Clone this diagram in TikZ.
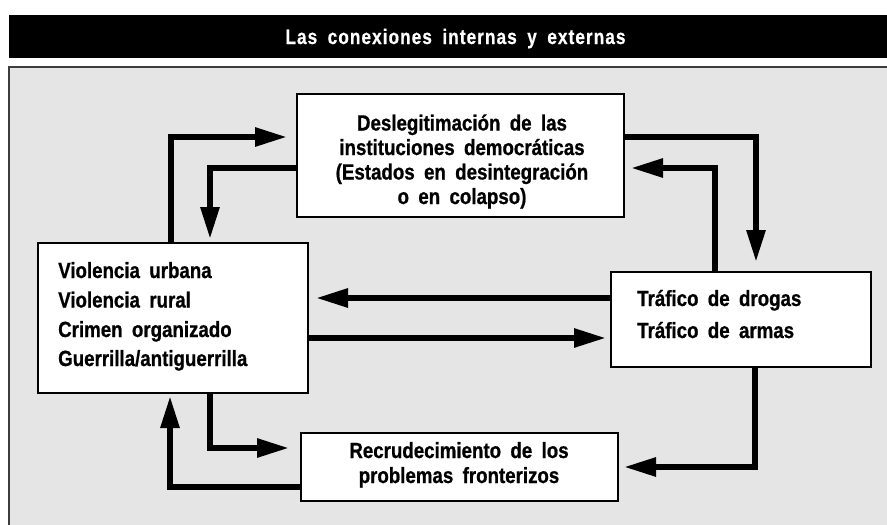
\documentclass[tikz,border=0pt]{standalone}
\usepackage{fontspec}
\setmainfont{Liberation Sans}[FakeStretch=0.85,WordSpace=1.8,BoldFeatures={FakeBold=0.8}]
\newfontfamily\titlefont{Liberation Sans}[FakeStretch=0.82,WordSpace=1.8,LetterSpace=5,BoldFeatures={FakeBold=0.6}]
\usetikzlibrary{arrows.meta}
\definecolor{panelgray}{HTML}{E5E5E5}
\definecolor{edgegray}{HTML}{3C3C3C}
\tikzset{
  box/.style={draw=black, line width=2pt, fill=white, inner sep=0pt},
  txt/.style={inner sep=0pt, font=\fontsize{22}{22}\selectfont\bfseries},
  arr/.style={line width=5.8pt, line join=miter, -{Triangle[length=32pt,width=18pt]}},
}
\begin{document}
\begin{tikzpicture}[x=1pt,y=-1pt]
\useasboundingbox (0,0) rectangle (887,525);
% title bar
\fill[black] (9,15) rectangle (887,58);
\node[inner sep=0pt, anchor=base, text=white, font=\titlefont\fontsize{21}{21}\selectfont\bfseries] (title) at (455.5,44) {Las conexiones internas y externas};
% panel
\fill[panelgray] (9,67) rectangle (887,525);
\draw[edgegray, line width=2pt] (9,525) -- (9,67) -- (887,67);
% boxes
\node[box, minimum width=327pt, minimum height=123pt] (dt) at (460.5,155.5) {};
\node[box, minimum width=270pt, minimum height=150pt] (vl) at (173,318) {};
\node[box, minimum width=260pt, minimum height=95pt] (tr) at (741,319.5) {};
\node[box, minimum width=317pt, minimum height=68pt] (rb) at (459.5,467) {};
% texts
\node[txt, anchor=base] (dt1) at (462,130.5) {Deslegitimación de las};
\node[txt, anchor=base] (dt2) at (462,155) {instituciones democráticas};
\node[txt, anchor=base] (dt3) at (462,179.5) {(Estados en desintegración};
\node[txt, anchor=base] (dt4) at (462,204) {o en colapso)};
\node[txt, anchor=base west] (vl1) at (58,278) {Violencia urbana};
\node[txt, anchor=base west] (vl2) at (58,307.5) {Violencia rural};
\node[txt, anchor=base west] (vl3) at (58,337) {Crimen organizado};
\node[txt, anchor=base west] (vl4) at (58,366) {Guerrilla/antiguerrilla};
\node[txt, anchor=base west] (tr1) at (637,306) {Tráfico de drogas};
\node[txt, anchor=base west] (tr2) at (637,338) {Tráfico de armas};
\node[txt, anchor=base] (rb1) at (459,458) {Recrudecimiento de los};
\node[txt, anchor=base] (rb2) at (459,483) {problemas fronterizos};
% connectors
\draw[arr, shorten >=9pt] (vl.north -| 171,0) |- (dt.west |- 0,137);
\draw[arr, shorten >=3pt] (dt.west |- 0,168) -| (vl.north -| 210,0);
\draw[arr, shorten >=9pt] (dt.east |- 0,137) -| (tr.north -| 756,0);
\draw[arr, shorten >=6pt] (tr.north -| 715,0) |- (dt.east |- 0,168);
\draw[arr, shorten >=7pt] (tr.west |- 0,298) -- (vl.east |- 0,298);
\draw[arr, shorten >=4pt] (vl.east |- 0,338) -- (tr.west |- 0,338);
\draw[arr, shorten >=11pt] (vl.south -| 210,0) |- (rb.west |- 0,448);
\draw[arr, shorten >=2pt] (rb.west |- 0,487) -| (vl.south -| 170,0);
\draw[arr, shorten >=5pt] (tr.south -| 755,0) |- (rb.east |- 0,467);
\end{tikzpicture}
\end{document}
